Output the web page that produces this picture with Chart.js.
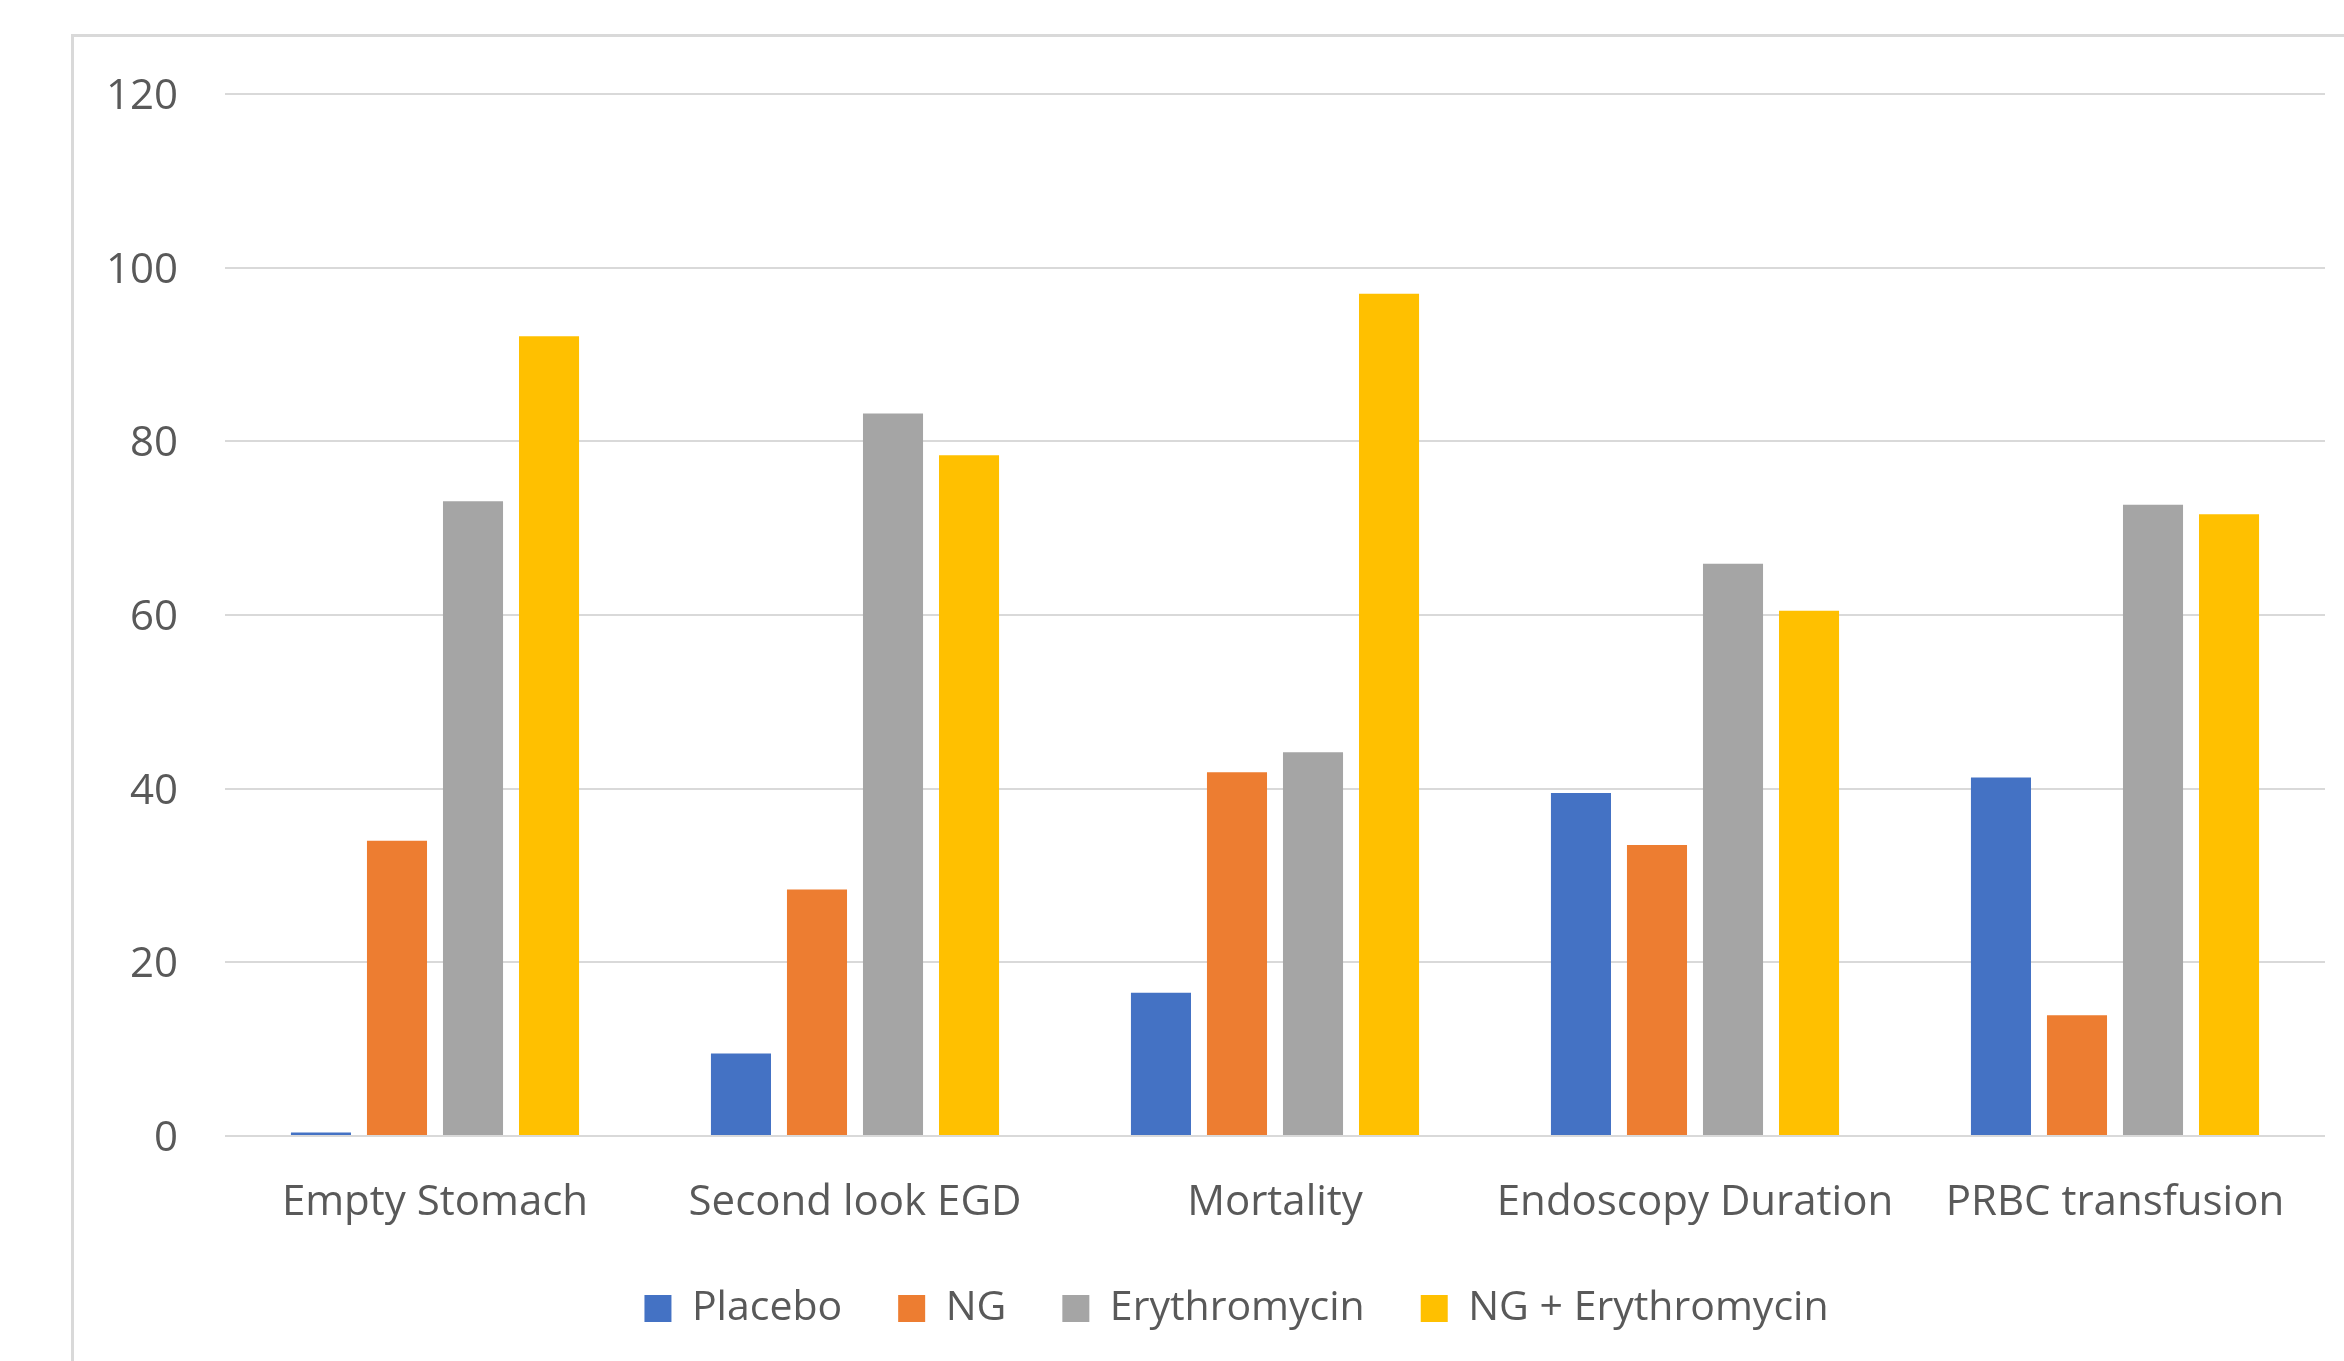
<!DOCTYPE html>
<html>
<head>
<meta charset="utf-8">
<script src="https://cdn.jsdelivr.net/npm/chart.js@4.4.0/dist/chart.umd.min.js"></script>
<style>
  body { margin: 0; background: #fff; overflow: hidden; }
  #wrap { position: relative; width: 2344px; height: 1361px; }
  /* the light frame round the chart, cut off at the right and bottom */
  #frame {
    position: absolute; left: 71px; top: 34px; width: 2400px; height: 1400px;
    border-left: 3px solid #d9d9d9; border-top: 3px solid #d9d9d9;
  }
  #myChart { position: absolute; left: 0; top: 0; }
</style>
</head>
<body>
<div id="wrap">
  <div id="frame"></div>
  <canvas id="myChart" width="2344" height="1361"></canvas>
</div>
<script>
// data
const categories = ["Empty Stomach", "Second look EGD", "Mortality", "Endoscopy Duration", "PRBC transfusion"];
const placebo = [0.4, 9.5, 16.5, 39.5, 41.3];
const ng = [34.0, 28.4, 41.9, 33.5, 13.9];
const erythromycin = [73.1, 83.2, 44.2, 65.9, 72.7];
const ngErythromycin = [92.1, 78.4, 97.0, 60.5, 71.6];
const yTicks = [0, 20, 40, 60, 80, 100, 120];

const textColor = "#595959";
const gridColor = "#d9d9d9";

// the legend in the picture sits a bit right of the canvas centre
const legendShift = {
  id: "legendShift",
  afterLayout(chart) {
    chart.legend.left += 74;
    chart.legend.right += 74;
  },
};

const ctx = document.getElementById("myChart");

new Chart(ctx, {
  type: "bar",
  data: {
    labels: categories,
    datasets: [
      { label: "Placebo", data: placebo, backgroundColor: "#4472c4" },
      { label: "NG", data: ng, backgroundColor: "#ed7d31" },
      { label: "Erythromycin", data: erythromycin, backgroundColor: "#a5a5a5" },
      { label: "NG + Erythromycin", data: ngErythromycin, backgroundColor: "#ffc000" },
    ],
  },
  plugins: [legendShift],
  options: {
    responsive: false,
    devicePixelRatio: 1,
    animation: false,
    categoryPercentage: 0.724,
    barPercentage: 0.79,
    layout: {
      padding: { left: 0, right: 19, top: 94, bottom: 22 },
    },
    plugins: {
      tooltip: { enabled: false },
      legend: {
        position: "bottom",
        labels: {
          boxWidth: 27,
          boxHeight: 27,
          padding: 56,
          color: textColor,
          font: { family: "'Open Sans'", size: 41 },
        },
      },
    },
    scales: {
      x: {
        grid: { display: false },
        border: { display: false },
        ticks: {
          color: textColor,
          padding: 34,
          maxRotation: 0,
          font: { family: "'Open Sans'", size: 42 },
        },
        afterFit: (scale) => {
          scale.height = 96;
        },
      },
      y: {
        min: 0,
        max: 120,
        afterBuildTicks: (scale) => {
          scale.ticks = yTicks.map((v) => ({ value: v }));
        },
        grid: { color: gridColor, lineWidth: 2, drawTicks: false },
        border: { display: false },
        ticks: {
          color: textColor,
          padding: 47,
          labelOffset: 3,
          font: { family: "'Open Sans'", size: 42 },
        },
        afterFit: (scale) => {
          scale.width = 225;
        },
      },
    },
  },
});
</script>
</body>
</html>
